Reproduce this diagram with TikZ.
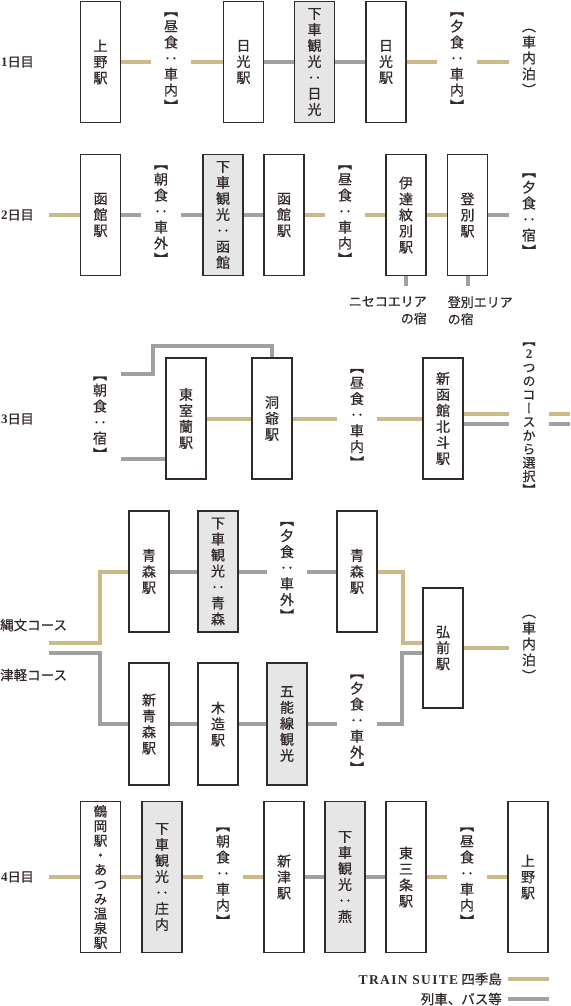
\documentclass[tikz,border=0pt]{standalone}
\usepackage{fontspec}
\setmainfont{Liberation Serif}
\newfontfamily\cjk[FakeBold=0.6]{Noto Sans CJK JP}
\newfontfamily\cjkv[RawFeature=+vert,FakeBold=0.6]{Noto Sans CJK JP}
\definecolor{suite}{RGB}{201,186,136}
\definecolor{local}{RGB}{160,160,160}
\definecolor{ink}{RGB}{50,42,40}
\definecolor{stop}{RGB}{230,230,230}

\begin{document}
\begin{tikzpicture}[x=1pt,y=-1pt,font=\cjk,text=ink,
    stn/.style={draw=ink, line width=1.1pt, fill=white, minimum width=40pt,
      minimum height=121pt, inner sep=0pt, align=center,
      font=\cjkv\fontsize{14}{16}\selectfont},
    tour/.style={stn, fill=stop},
    meal/.style={minimum width=40pt, inner sep=0pt, align=center,
      font=\cjkv\fontsize{14}{16}\selectfont},
    day/.style={anchor=west, inner sep=0pt, font=\cjk\fontsize{13}{15}\selectfont},
    area/.style={inner sep=0pt, font=\cjk\fontsize{13}{17}\selectfont},
    suiteline/.style={suite, line width=4pt},
    localline/.style={local, line width=4pt}]
  \useasboundingbox (0,0) rectangle (570,1006);

  % 1日目
  \node[day] (d1) at (1,62) {{\rmfamily\bfseries 1}日目};
  \node[stn] (ueno1) at (100.5,62) {上\\野\\駅};
  \node[meal] (meal11) at (171,62) {【\\昼\\食\\：\\車\\内\\】};
  \node[stn] (nikko1) at (243.5,62) {日\\光\\駅};
  \node[tour] (kanko1) at (314.5,62) {下\\車\\観\\光\\：\\日\\光};
  \node[stn] (nikko2) at (386,62) {日\\光\\駅};
  \node[meal] (meal12) at (457,62) {【\\夕\\食\\：\\車\\内\\】};
  \node[meal] (haku1) at (529,62) {（\\車\\内\\泊\\）};
  \draw[suiteline] (ueno1) -- (meal11);
  \draw[suiteline] (meal11) -- (nikko1);
  \draw[localline] (nikko1) -- (kanko1);
  \draw[localline] (kanko1) -- (nikko2);
  \draw[suiteline] (nikko2) -- (meal12);
  \draw[suiteline] (meal12) -- (haku1);

  % 2日目
  \node[day] (d2) at (1,215) {{\rmfamily\bfseries 2}日目};
  \coordinate (c2) at (49,215);
  \node[stn] (hako1) at (100.5,215) {函\\館\\駅};
  \node[meal] (meal21) at (161,215) {【\\朝\\食\\：\\車\\外\\】};
  \node[tour] (kanko2) at (223,215) {下\\車\\観\\光\\：\\函\\館};
  \node[stn] (hako2) at (284,215) {函\\館\\駅};
  \node[meal] (meal22) at (345,215) {【\\昼\\食\\：\\車\\内\\】};
  \node[stn] (date) at (406,215) {伊\\達\\紋\\別\\駅};
  \node[stn] (nobo) at (467.5,215) {登\\別\\駅};
  \node[meal] (meal23) at (529,215) {【\\夕\\食\\：\\宿\\】};
  \draw[suiteline] (c2) -- (hako1);
  \draw[localline] (hako1) -- (meal21);
  \draw[localline] (meal21) -- (kanko2);
  \draw[localline] (kanko2) -- (hako2);
  \draw[suiteline] (hako2) -- (meal22);
  \draw[suiteline] (meal22) -- (date);
  \draw[suiteline] (date) -- (nobo);
  \draw[localline] (nobo) -- (meal23);
  \draw[localline] (date.south) -- ++(0,10) coordinate (s1);
  \draw[localline] (nobo.south) -- ++(0,10) coordinate (s2);
  \node[area, anchor=north east, align=right] (niseko) at ([xshift=21pt,yshift=-10pt]s1) {ニセコエリア\\の宿};
  \node[area, anchor=north west, align=left] (noboarea) at ([xshift=-20pt,yshift=-10pt]s2) {登別エリア\\の宿};

  % 3日目
  \node[day] (d3) at (1,419) {{\rmfamily\bfseries 3}日目};
  \coordinate (c3a) at (121,374);
  \coordinate (c3b) at (121,459);
  \node[meal] (meal31) at (100,418) {【\\朝\\食\\：\\宿\\】};
  \node[stn] (higa) at (186,418.5) {東\\室\\蘭\\駅};
  \node[stn] (toya) at (272,418.5) {洞\\爺\\駅};
  \node[meal] (meal32) at (357,418.5) {【\\昼\\食\\：\\車\\内\\】};
  \node[stn] (shin) at (443,418.5) {新\\函\\館\\北\\斗\\駅};
  \node[meal, font=\cjkv\fontsize{13}{13.6}\selectfont] (course) at (529,418.5) {【\\{\rmfamily\bfseries 2}\\つ\\の\\コ\\ー\\ス\\か\\ら\\選\\択\\】};
  \coordinate (e3a) at (570,413.5);
  \coordinate (e3b) at (570,423.5);
  \draw[localline] (c3a) -- ++(32,0) |- ([yshift=11pt]toya.north) -- (toya.north);
  \draw[localline] (c3b) -- (c3b -| higa.west);
  \draw[suiteline] (higa) -- (toya);
  \draw[suiteline] (toya) -- (meal32);
  \draw[suiteline] (meal32) -- (shin);
  \draw[suiteline] ([yshift=5pt]shin.east) -- ([yshift=5pt]course.west);
  \draw[localline] ([yshift=-5pt]shin.east) -- ([yshift=-5pt]course.west);
  \draw[suiteline] ([yshift=5pt]course.east) -- (e3a);
  \draw[localline] ([yshift=-5pt]course.east) -- (e3b);

  % コース
  \node[day, font=\cjk\fontsize{13.5}{15}\selectfont] (jomon) at (0,625) {縄文コース};
  \node[day, font=\cjk\fontsize{13.5}{15}\selectfont] (tsugaru) at (0,675) {津軽コース};
  \coordinate (c4a) at (49,643);
  \coordinate (c4b) at (49,653);
  \node[stn] (aomori1) at (149,571.5) {青\\森\\駅};
  \node[tour] (kanko3) at (218,571.5) {下\\車\\観\\光\\：\\青\\森};
  \node[meal] (meal41) at (287,571.5) {【\\夕\\食\\：\\車\\外\\】};
  \node[stn] (aomori2) at (357,571.5) {青\\森\\駅};
  \node[stn, minimum height=120pt] (hiro) at (443,648) {弘\\前\\駅};
  \node[meal] (haku2) at (529,648) {（\\車\\内\\泊\\）};
  \node[stn, minimum height=122pt] (shinao) at (149,724) {新\\青\\森\\駅};
  \node[stn, minimum height=122pt] (kizu) at (218,724) {木\\造\\駅};
  \node[tour, minimum height=122pt] (gono) at (287,724) {五\\能\\線\\観\\光};
  \node[meal] (meal43) at (357,724) {【\\夕\\食\\：\\車\\外\\】};
  \draw[suiteline] (c4a) -- ++(51,0) |- (aomori1.west);
  \draw[localline] (aomori1) -- (kanko3);
  \draw[localline] (kanko3) -- (meal41);
  \draw[localline] (meal41) -- (aomori2);
  \draw[suiteline] (aomori2.east) -- ++(25,0) |- ([yshift=5pt]hiro.west);
  \draw[suiteline] (hiro) -- (haku2);
  \draw[localline] (c4b) -- ++(51,0) |- (shinao.west);
  \draw[localline] (shinao) -- (kizu);
  \draw[localline] (kizu) -- (gono);
  \draw[localline] (gono) -- (meal43);
  \draw[localline] (meal43.east) -- ++(25,0) |- ([yshift=-5pt]hiro.west);

  % 4日目
  \node[day] (d4) at (1,877) {{\rmfamily\bfseries 4}日目};
  \coordinate (c5) at (49,877);
  \node[stn, minimum height=151pt, font=\cjkv\fontsize{13.5}{14.6}\selectfont] (tsuru) at (100.5,877) {鶴\\岡\\駅\\・\\あ\\つ\\み\\温\\泉\\駅};
  \node[tour, minimum height=151pt] (kanko5) at (162,877) {下\\車\\観\\光\\：\\庄\\内};
  \node[meal] (meal51) at (223,877) {【\\朝\\食\\：\\車\\内\\】};
  \node[stn, minimum height=151pt] (niitsu) at (284,877) {新\\津\\駅};
  \node[tour, minimum height=151pt] (kanko6) at (345,877) {下\\車\\観\\光\\：\\燕};
  \node[stn, minimum height=151pt] (higasan) at (406,877) {東\\三\\条\\駅};
  \node[meal] (meal52) at (467,877) {【\\昼\\食\\：\\車\\内\\】};
  \node[stn, minimum height=151pt] (ueno2) at (528,877) {上\\野\\駅};
  \draw[suiteline] (c5) -- (tsuru);
  \draw[suiteline] (tsuru) -- (kanko5);
  \draw[suiteline] (kanko5) -- (meal51);
  \draw[suiteline] (meal51) -- (niitsu);
  \draw[localline] (niitsu) -- (kanko6);
  \draw[localline] (kanko6) -- (higasan);
  \draw[suiteline] (higasan) -- (meal52);
  \draw[suiteline] (meal52) -- (ueno2);

  % 凡例
  \node[anchor=east, inner sep=0pt, font=\cjk\fontsize{13.5}{15}\selectfont] (legsuite) at (502,979) {{\rmfamily\bfseries\addfontfeatures{LetterSpace=10}TRAIN SUITE} 四季島};
  \node[anchor=east, inner sep=0pt, font=\cjk\fontsize{13.5}{15}\selectfont] (leglocal) at (502,999) {列車、バス等};
  \draw[suiteline] ([xshift=6pt]legsuite.east) -- ++(41,0);
  \draw[localline] ([xshift=6pt]leglocal.east) -- ++(41,0);
\end{tikzpicture}
\end{document}
